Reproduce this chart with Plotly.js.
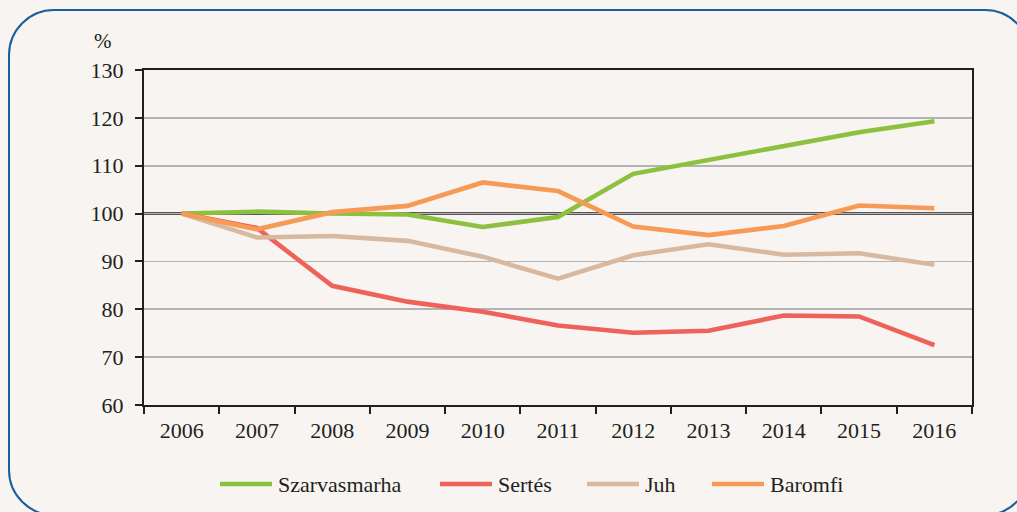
<!DOCTYPE html>
<html>
<head>
<meta charset="utf-8">
<script src="https://cdn.plot.ly/plotly-3.0.1.min.js"></script>
<style>
  html, body { margin:0; padding:0; width:1017px; height:512px; overflow:hidden; background:#F7F4F1; }
  #frame { position:absolute; left:8px; top:9px; width:1023px; height:507px; box-sizing:border-box;
           border:2.5px solid #1B5E9E; border-radius:46px; z-index:0; }
  #chart { position:absolute; left:0; top:0; width:1017px; height:512px; z-index:1; }
</style>
</head>
<body>
<div id="frame"></div>
<div id="chart"></div>
<script>
const years = ['2006','2007','2008','2009','2010','2011','2012','2013','2014','2015','2016'];
const szarvasmarha = [100, 100.4, 100.0, 99.8, 97.2, 99.3, 108.3, 111.2, 114.2, 117.0, 119.3];
const sertes       = [100, 97.0, 84.9, 81.6, 79.5, 76.6, 75.1, 75.5, 78.7, 78.5, 72.5];
const juh          = [100, 95.0, 95.3, 94.3, 91.0, 86.4, 91.3, 93.6, 91.4, 91.7, 89.3];
const baromfi      = [100, 96.7, 100.3, 101.6, 106.5, 104.7, 97.3, 95.5, 97.4, 101.7, 101.1];
const seriesNames  = ['Szarvasmarha', 'Sertés', 'Juh', 'Baromfi'];
const yTicks = [60, 70, 80, 90, 100, 110, 120, 130];

const colors = ['#8DC03F', '#EE625A', '#D8B9A0', '#F79A55'];
const allSeries = [szarvasmarha, sertes, juh, baromfi];
const font = 'Liberation Serif';
const ink = '#231F20';

const traces = allSeries.map((vals, i) => ({
  type: 'scatter', mode: 'lines', x: years, y: vals, name: seriesNames[i],
  line: { color: colors[i], width: 4.6 }, showlegend: false
}));

const M = { l: 144, r: 45, t: 70, b: 107 };
const PW = 1017 - M.l - M.r, PH = 512 - M.t - M.b;
const px2x = p => (p - M.l) / PW;
const py2y = p => (512 - M.b - p) / PH;
const legLineStart = [220, 440, 587, 712];
const legLineLen = 52;
const legY = py2y(484);

const shapes = [{
  type: 'line', xref: 'paper', x0: 0, x1: 1, yref: 'y', y0: 100, y1: 100,
  line: { color: ink, width: 2.4 }, layer: 'between'
}];
const annotations = [{
  text: '%', xref: 'paper', yref: 'paper', x: px2x(103), y: py2y(41), showarrow: false,
  xanchor: 'center', yanchor: 'middle', font: { family: 'Times New Roman', size: 21, color: ink }
}];
seriesNames.forEach((name, i) => {
  shapes.push({
    type: 'line', xref: 'paper', yref: 'paper',
    x0: px2x(legLineStart[i]), x1: px2x(legLineStart[i] + legLineLen), y0: legY, y1: legY,
    line: { color: colors[i], width: 4.6 }
  });
  annotations.push({
    text: name, xref: 'paper', yref: 'paper', x: px2x(legLineStart[i] + legLineLen + 4), y: legY,
    xanchor: 'left', yanchor: 'middle', showarrow: false,
    font: { size: 22, color: ink }
  });
});

const layout = {
  width: 1017, height: 512,
  margin: M,
  paper_bgcolor: 'rgba(0,0,0,0)', plot_bgcolor: 'rgba(0,0,0,0)',
  font: { family: font, color: ink, size: 22 },
  showlegend: false,
  xaxis: {
    type: 'category', range: [-0.5, 10.5], tickson: 'boundaries',
    showline: true, linecolor: ink, linewidth: 2, mirror: true,
    ticks: 'outside', ticklen: 7, tickwidth: 2, tickcolor: ink,
    showgrid: false, tickfont: { family: font, size: 22, color: ink }, ticklabelstandoff: 5
  },
  yaxis: {
    range: [60, 130], tickvals: yTicks, ticktext: yTicks.map(String),
    showline: true, linecolor: ink, linewidth: 2, mirror: true,
    ticks: 'outside', ticklen: 7, tickwidth: 2, tickcolor: ink,
    showgrid: true, gridcolor: '#B3B3B3', gridwidth: 1.6, zeroline: false,
    tickfont: { family: font, size: 22, color: ink }, ticklabelstandoff: 7
  },
  shapes: shapes,
  annotations: annotations
};

Plotly.newPlot('chart', traces, layout, { displayModeBar: false, staticPlot: true });
</script>
</body>
</html>
